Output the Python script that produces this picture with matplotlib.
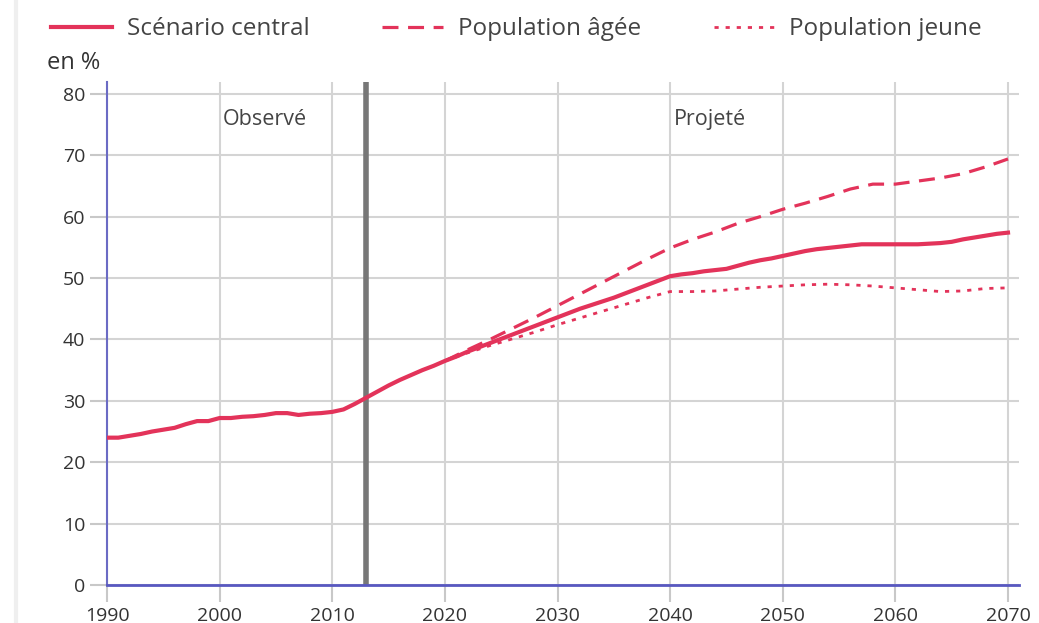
import matplotlib
matplotlib.use("Agg")
import matplotlib.pyplot as plt
from matplotlib.lines import Line2D

# ------------------ Data ------------------

years_obs = list(range(1990, 2071))
central = [24.0, 24.0, 24.3, 24.6, 25.0, 25.3, 25.6, 26.2, 26.7, 26.7,
           27.2, 27.2, 27.4, 27.5, 27.7, 28.0, 28.0, 27.7, 27.9, 28.0,
           28.2, 28.6, 29.5, 30.5, 31.5, 32.5, 33.4, 34.2, 35.0, 35.7,
           36.5, 37.2, 38.0, 38.7, 39.4, 40.1, 40.8, 41.5, 42.2, 42.9,
           43.6, 44.3, 45.0, 45.6, 46.2, 46.8, 47.5, 48.2, 48.9, 49.6,
           50.3, 50.6, 50.8, 51.1, 51.3, 51.5, 52.0, 52.5, 52.9, 53.2,
           53.6, 54.0, 54.4, 54.7, 54.9, 55.1, 55.3, 55.5, 55.5, 55.5,
           55.5, 55.5, 55.5, 55.6, 55.7, 55.9, 56.3, 56.6, 56.9, 57.2,
           57.4]

years_proj = list(range(2020, 2071, 2))
agee = [36.5, 38.3, 40.0, 41.8, 43.6, 45.5, 47.4, 49.3, 51.2, 53.1,
        54.9, 56.3, 57.5, 58.9, 60.0, 61.2, 62.2, 63.3, 64.5, 65.3,
        65.3, 65.8, 66.3, 67.0, 68.1, 69.4]
jeune = [36.5, 37.8, 39.0, 40.1, 41.2, 42.4, 43.5, 44.6, 45.7, 46.8,
         47.8, 47.8, 47.9, 48.2, 48.5, 48.7, 48.9, 49.0, 48.9, 48.7,
         48.4, 48.1, 47.8, 47.9, 48.3, 48.4]

x_ticks = list(range(1990, 2071, 10))
y_ticks = list(range(0, 81, 10))
split_year = 2013

# ------------------ Plot ------------------

red = "#e3335a"
plt.rcParams["font.family"] = ["Open Sans", "DejaVu Sans"]

fig = plt.figure(figsize=(10.39, 6.23), dpi=100)
ax = fig.add_axes([0.103, 0.061, 0.878, 0.808])

ax.plot(years_obs, central, color=red, lw=3, label="Scénario central", zorder=4)
ax.plot(years_proj, agee, color=red, lw=2.3, ls=(0, (5, 3)), label="Population âgée", zorder=3)
ax.plot(years_proj, jeune, color=red, lw=2, ls=(0, (1.5, 2.5)), label="Population jeune", zorder=3)

# separation observed / projected
ax.axvline(split_year, color="#777777", lw=4, zorder=2)

ax.set_xlim(1990, 2071)
ax.set_ylim(0, 82)
ax.set_xticks(x_ticks)
ax.set_yticks(y_ticks)
ax.grid(True, color="#d4d4d4", lw=1.5)
ax.set_axisbelow(True)

for side in ["top", "right"]:
    ax.spines[side].set_visible(False)
ax.spines["left"].set_color("#6b6bc4")
ax.spines["bottom"].set_color("#5858c0")
ax.spines["left"].set_linewidth(1.5)
ax.spines["bottom"].set_linewidth(2)
ax.tick_params(axis="both", colors="#c8c8c8", length=12, width=1.5,
               labelcolor="#333333", labelsize=14)

ax.text(2004, 75.9, "Observé", ha="center", va="center", fontsize=15.5, color="#444444")
ax.text(2043.5, 75.9, "Projeté", ha="center", va="center", fontsize=15.5, color="#444444")
fig.text(0.045, 0.899, "en %", fontsize=17, color="#333333", va="center")

fig.legend(loc="upper left", bbox_to_anchor=(0.033, 1.0), ncol=3, frameon=False,
           fontsize=17.5, handlelength=2.5, columnspacing=3.0, handletextpad=0.6,
           labelcolor="#444444", borderaxespad=0.3)

fig.add_artist(Line2D([0.015, 0.015], [0, 1], color="#efefef", lw=3))

fig.savefig("out.png", dpi=100)
